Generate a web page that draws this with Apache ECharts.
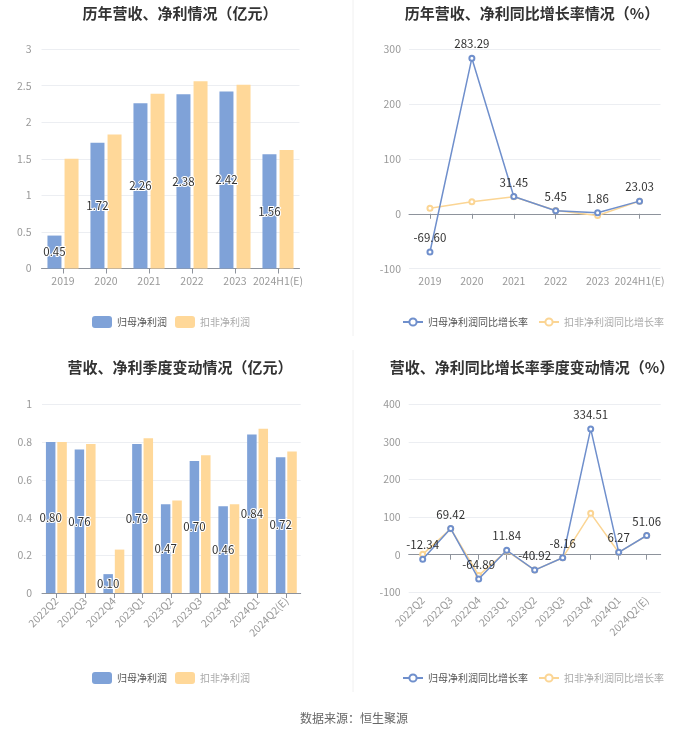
<!DOCTYPE html>
<html>
<head>
<meta charset="utf-8">
<script src="https://cdn.jsdelivr.net/npm/echarts@6/dist/echarts.min.js"></script>
<style>
html,body{margin:0;padding:0;background:#fff;}
#c{width:700px;height:734px;}
</style>
</head>
<body>
<div id="c"></div>
<script>
// ---- data ----
const yearCats = ['2019', '2020', '2021', '2022', '2023', '2024H1(E)'];
const yearNetProfit = [0.45, 1.72, 2.26, 2.38, 2.42, 1.56];
const yearDeductProfit = [1.50, 1.83, 2.39, 2.56, 2.51, 1.62];
const yearNetGrowth = [-69.60, 283.29, 31.45, 5.45, 1.86, 23.03];
const yearDeductGrowth = [10, 22, 31, 6, -3, 23];

const qCats = ['2022Q2', '2022Q3', '2022Q4', '2023Q1', '2023Q2', '2023Q3', '2023Q4', '2024Q1', '2024Q2(E)'];
const qNetProfit = [0.80, 0.76, 0.10, 0.79, 0.47, 0.70, 0.46, 0.84, 0.72];
const qDeductProfit = [0.80, 0.79, 0.23, 0.82, 0.49, 0.73, 0.47, 0.87, 0.75];
const qNetGrowth = [-12.34, 69.42, -64.89, 11.84, -40.92, -8.16, 334.51, 6.27, 51.06];
const qDeductGrowth = [1, 69, -55, 10, -41, -8, 110, 6, 51];

const titles = ['历年营收、净利情况（亿元）', '历年营收、净利同比增长率情况（%）', '营收、净利季度变动情况（亿元）', '营收、净利同比增长率季度变动情况（%）'];
const nameNet = '归母净利润', nameDeduct = '扣非净利润';
const nameNetG = '归母净利润同比增长率', nameDeductG = '扣非净利润同比增长率';
const source = '数据来源：恒生聚源';

// ---- style ----
const BLUE = '#7fa2d8', YEL = '#ffd899', LBLUE = '#6f8fcc', LYEL = '#fbd594';
const FONT = '"Noto Sans CJK SC","Noto Sans",sans-serif';
const axisLabel = {color: '#999', fontSize: 10.5, fontFamily: FONT, interval: 0};
const splitLine = {show: true, lineStyle: {color: '#eceef2'}};
const axisLineC = '#8e939c';
const tick = {show: true, alignWithLabel: true, interval: 0, lineStyle: {color: axisLineC}};

const chart = echarts.init(document.getElementById('c'), null, {renderer: 'canvas'});

function barLabel() {
  return {show: true, position: 'inside', color: '#333', fontSize: 11.5, fontFamily: FONT,
    textBorderColor: '#fff', textBorderWidth: 2, formatter: p => p.value.toFixed(2)};
}
function lineLabel() {
  return {show: true, position: 'top', color: '#333', fontSize: 11.5, fontFamily: FONT,
    formatter: p => p.value.toFixed(2)};
}

const grids = [
  {left: 41.5, top: 49, width: 258, height: 219.5},
  {left: 409, top: 49, width: 251.5, height: 219.7},
  {left: 42, top: 404.3, width: 258.7, height: 188.7},
  {left: 408.7, top: 404.3, width: 252, height: 188}
];

const legendText = {fontSize: 10, fontFamily: FONT};
function barLegend(top) {
  return {data: [{name: nameNet, textStyle: {color: '#555'}}, {name: nameDeduct, textStyle: {color: '#aaa'}}],
    left: 92, top: top, padding: 0, width: 250, itemWidth: 20, itemHeight: 12, itemGap: 8, icon: 'roundRect',
    textStyle: legendText};
}
function lineLegend(top) {
  return {data: [{name: nameNetG, textStyle: {color: '#555'}}, {name: nameDeductG, textStyle: {color: '#aaa'}}],
    left: 402, top: top, padding: 0, width: 298, itemWidth: 20, itemHeight: 9, itemGap: 10,
    textStyle: legendText};
}

const option = {
  animation: false,
  backgroundColor: '#fff',
  title: [
    {text: titles[0], left: 175, top: 1, textAlign: 'center'},
    {text: titles[1], left: 527, top: 1, textAlign: 'center'},
    {text: titles[2], left: 175, top: 355, textAlign: 'center'},
    {text: titles[3], left: 527, top: 355, textAlign: 'center'},
    {text: source, left: 349, top: 707, textAlign: 'center',
      textStyle: {fontSize: 12, fontWeight: 'normal', color: '#666', fontFamily: FONT}}
  ].map((t, i) => i < 4 ? Object.assign(t, {textStyle: {fontSize: 15, fontWeight: 'bold', color: '#333', fontFamily: FONT}}) : t),
  legend: [barLegend(316), lineLegend(317), barLegend(672), lineLegend(673)],
  grid: grids,
  xAxis: [
    // chart 1
    {type: 'category', gridIndex: 0, data: yearCats, axisLabel: Object.assign({margin: 7}, axisLabel),
      axisLine: {lineStyle: {color: axisLineC}}, axisTick: tick},
    // chart 2 labels at bottom
    {type: 'category', gridIndex: 1, data: yearCats, axisLabel: Object.assign({margin: 7}, axisLabel),
      axisLine: {show: false, onZero: false}, axisTick: {show: false}},
    // chart 2 zero line
    {type: 'category', gridIndex: 1, data: yearCats, position: 'bottom', axisLabel: {show: false},
      axisLine: {show: true, onZero: true, lineStyle: {color: axisLineC}}, axisTick: tick},
    // chart 3
    {type: 'category', gridIndex: 2, data: qCats, axisLabel: Object.assign({rotate: 45, margin: 6}, axisLabel),
      axisLine: {lineStyle: {color: axisLineC}}, axisTick: tick},
    // chart 4 labels
    {type: 'category', gridIndex: 3, data: qCats, axisLabel: Object.assign({rotate: 45, margin: 6}, axisLabel),
      axisLine: {show: false, onZero: false}, axisTick: {show: false}},
    // chart 4 zero line
    {type: 'category', gridIndex: 3, data: qCats, position: 'bottom', axisLabel: {show: false},
      axisLine: {show: true, onZero: true, lineStyle: {color: axisLineC}}, axisTick: tick}
  ],
  yAxis: [
    {type: 'value', gridIndex: 0, min: 0, max: 3, interval: 0.5, axisLabel: Object.assign({margin: 10}, axisLabel), splitLine, axisLine: {show: false}},
    {type: 'value', gridIndex: 1, min: -100, max: 300, interval: 100, axisLabel: Object.assign({margin: 8}, axisLabel), splitLine, axisLine: {show: false}},
    {type: 'value', gridIndex: 2, min: 0, max: 1, interval: 0.2, axisLabel: Object.assign({margin: 10}, axisLabel), splitLine, axisLine: {show: false}},
    {type: 'value', gridIndex: 3, min: -100, max: 400, interval: 100, axisLabel: Object.assign({margin: 8}, axisLabel), splitLine, axisLine: {show: false}}
  ],
  series: [
    {name: nameNet, type: 'bar', xAxisIndex: 0, yAxisIndex: 0, data: yearNetProfit, barWidth: 14, barGap: '22%',
      itemStyle: {color: BLUE}, label: barLabel(), z: 3},
    {name: nameDeduct, type: 'bar', xAxisIndex: 0, yAxisIndex: 0, data: yearDeductProfit, barWidth: 14, barGap: '22%',
      itemStyle: {color: YEL}},
    {name: nameNetG, type: 'line', xAxisIndex: 1, yAxisIndex: 1, data: yearNetGrowth, symbol: 'emptyCircle', symbolSize: 5,
      lineStyle: {color: LBLUE, width: 1.5}, itemStyle: {color: LBLUE}, label: lineLabel(), z: 3},
    {name: nameDeductG, type: 'line', xAxisIndex: 1, yAxisIndex: 1, data: yearDeductGrowth, symbol: 'emptyCircle', symbolSize: 5,
      lineStyle: {color: LYEL, width: 1.5}, itemStyle: {color: LYEL}, z: 2},
    {name: nameNet, type: 'bar', xAxisIndex: 3, yAxisIndex: 2, data: qNetProfit, barWidth: 9.5, barGap: '20%',
      itemStyle: {color: BLUE}, label: barLabel(), z: 3},
    {name: nameDeduct, type: 'bar', xAxisIndex: 3, yAxisIndex: 2, data: qDeductProfit, barWidth: 9.5, barGap: '20%',
      itemStyle: {color: YEL}},
    {name: nameNetG, type: 'line', xAxisIndex: 4, yAxisIndex: 3, data: qNetGrowth, symbol: 'emptyCircle', symbolSize: 5,
      lineStyle: {color: LBLUE, width: 1.5}, itemStyle: {color: LBLUE}, label: lineLabel(), z: 3},
    {name: nameDeductG, type: 'line', xAxisIndex: 4, yAxisIndex: 3, data: qDeductGrowth, symbol: 'emptyCircle', symbolSize: 5,
      lineStyle: {color: LYEL, width: 1.5}, itemStyle: {color: LYEL}, z: 2}
  ],
  graphic: [
    {type: 'line', shape: {x1: 353, y1: 0, x2: 353, y2: 336}, style: {stroke: '#f0f0f0', lineWidth: 1}},
    {type: 'line', shape: {x1: 353, y1: 350, x2: 353, y2: 692}, style: {stroke: '#f0f0f0', lineWidth: 1}}
  ]
};
chart.setOption(option);
</script>
</body>
</html>
